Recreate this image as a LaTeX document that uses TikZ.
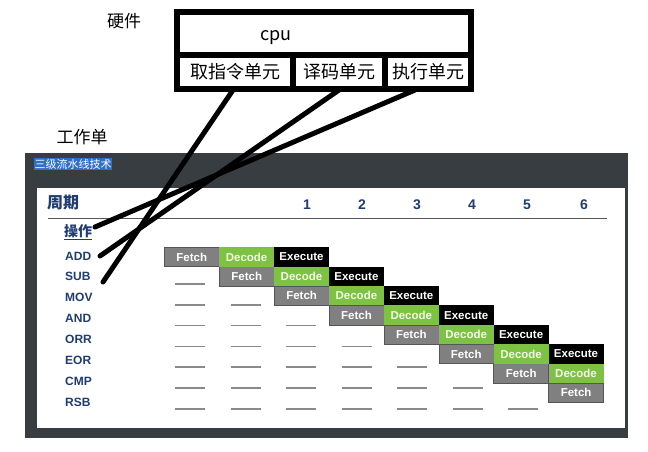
\documentclass[tikz,border=0pt]{standalone}
\usepackage{fontspec}
\setmainfont{Liberation Sans}
\newfontfamily\cjk{Noto Sans CJK SC}
\definecolor{panelbg}{HTML}{383D42}
\definecolor{navy}{HTML}{1F3C73}
\definecolor{fetchc}{HTML}{808080}
\definecolor{fetchb}{HTML}{555555}
\definecolor{decodec}{HTML}{7DC242}
\definecolor{decodet}{HTML}{F2FAE6}
\definecolor{hl}{HTML}{2F6FC8}
\definecolor{dashc}{HTML}{8A8A8A}
\tikzset{
  unitbox/.style={draw=black, line width=6pt, inner sep=0pt, font=\cjk\fontsize{18}{18}\selectfont},
  wire/.style={draw=black, line width=5pt, line cap=round},
  cell/.style={minimum width=55pt, minimum height=19.4pt, inner sep=0pt, anchor=north west,
    font=\bfseries\fontsize{11.5}{12}\selectfont, text=white},
  fetchcell/.style={cell, fill=fetchc, draw=fetchb, line width=0.6pt},
  decodecell/.style={cell, fill=decodec, text=decodet},
  execcell/.style={cell, fill=black},
  oplabel/.style={anchor=west, inner sep=0pt, text=navy, font=\bfseries\fontsize{12}{12}\selectfont},
  cyclabel/.style={inner sep=0pt, text=navy, font=\bfseries\fontsize{14}{14}\selectfont},
  dashline/.style={draw=dashc, line width=1.8pt}
}
\begin{document}
\begin{tikzpicture}[x=1pt,y=-1pt]
\useasboundingbox (0,0) rectangle (648,451);
\fill[white] (0,0) rectangle (648,451);

% hardware part
\node[inner sep=0pt, font=\cjk\fontsize{17}{17}\selectfont] (hw) at (124,21) {硬件};
\node[unitbox, minimum width=294pt, minimum height=43pt] (cpu) at (324,33.5) {};
\node[inner sep=0pt, font=\cjk\fontsize{18}{18}\selectfont] (cputext) at (276,38) {cpu};
\node[unitbox, minimum width=116pt, minimum height=34pt] (u1) at (235,72) {取指令单元};
\node[unitbox, minimum width=92pt, minimum height=34pt] (u2) at (339,72) {\raisebox{-5pt}{译码单元}};
\node[unitbox, minimum width=86pt, minimum height=34pt] (u3) at (428,72) {\raisebox{-5pt}{执行单元}};

\node[inner sep=0pt, font=\cjk\fontsize{17}{17}\selectfont] (work) at (82,137) {工作单};

% panel
\fill[panelbg] (25,153) rectangle (628,438);
\fill[white] (37,188) rectangle (625,428);
\node[fill=hl, text=white, inner xsep=0.5pt, inner ysep=0pt, minimum height=11.5pt, anchor=west,
  font=\cjk\fontsize{11}{11}\selectfont] (title) at (34,164) {三级流水线技术};

\node[anchor=west, inner sep=0pt, text=navy, font=\cjk\bfseries\fontsize{16}{16}\selectfont] (zq) at (47,203) {周期};
\draw[fetchb, line width=1pt] (48,218) -- (607,218);
\foreach \i/\x in {1/307,2/362,3/417,4/472,5/527,6/584}
  \node[cyclabel] (c\i) at (\x,205) {\i};

\node[anchor=west, inner sep=0pt, text=navy, font=\cjk\bfseries\fontsize{14}{14}\selectfont] (op) at (64,232) {\underline{操作}};
\foreach \n/\t [count=\r from 0] in {add/ADD,sub/SUB,mov/MOV,and/AND,orr/ORR,eor/EOR,cmp/CMP,rsb/RSB}
  \node[oplabel] (\n) at (65,{256+20.86*\r}) {\t};

% dashes
\foreach \r in {1,...,7}
  \foreach \k in {1,...,\r}
    \draw[dashline] ({175+55.5*(\k-1)},{263+20.86*\r}) -- ++(30,0);

% pipeline cells
\foreach \r in {0,...,7} {
  \node[fetchcell] (f\r) at ({164+54.9*\r},{247+19.4*\r}) {Fetch};
}
\foreach \r in {0,...,6} {
  \node[decodecell] (d\r) at ({164+54.9*(\r+1)},{247+19.4*\r}) {Decode};
}
\foreach \r in {0,...,5} {
  \node[execcell] (e\r) at ({164+54.9*(\r+2)},{247+19.4*\r}) {Execute};
}

% hand-drawn connectors
\coordinate (endmov) at (103,282);
\coordinate (endadd) at (100,256);
\coordinate (endop) at (95,227);
\draw[wire] ([xshift=-2pt,yshift=2pt]u1.south) -- (endmov);
\draw[wire] ([yshift=2pt]u2.south) -- (endadd);
\draw[wire] ([xshift=-13pt,yshift=2pt]u3.south) -- (endop);
\end{tikzpicture}
\end{document}
